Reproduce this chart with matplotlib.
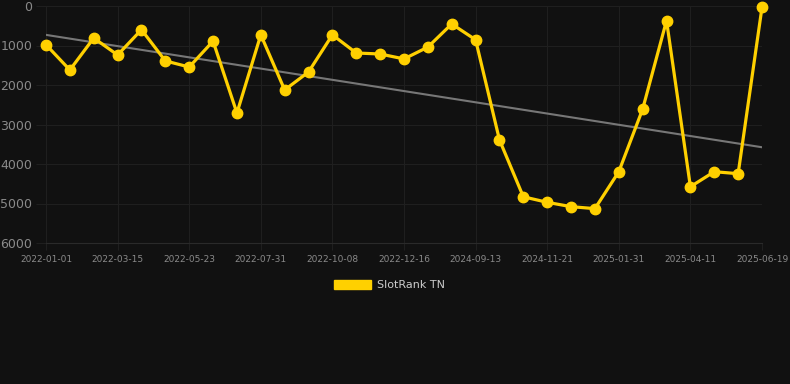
import numpy as np
import matplotlib
matplotlib.use("Agg")
import matplotlib.pyplot as plt
from matplotlib.patches import Patch

# data
dates = ["2022-01-01", "", "", "2022-03-15", "", "", "2022-05-23", "", "",
         "2022-07-31", "", "", "2022-10-08", "", "", "2022-12-16", "", "",
         "2024-09-13", "", "", "2024-11-21", "", "", "2025-01-31", "", "",
         "2025-04-11", "", "", "2025-06-19"]
ranks = [980, 1620, 810, 1240, 600, 1390, 1545, 890, 2710, 730,
         2125, 1670, 730, 1190, 1215, 1340, 1040, 455, 855, 3390,
         4830, 4970, 5080, 5130, 4195, 2610, 370, 4575, 4195, 4245, 35]

bg = "#111111"
gold = "#FFD000"
txt = "#8a8a8a"

fig = plt.figure(figsize=(7.9, 3.84), dpi=100, facecolor=bg)
ax = fig.add_axes([46 / 790, 1 - 243 / 384, (762 - 46) / 790, (243 - 6) / 384])
ax.set_facecolor(bg)

x = np.arange(len(ranks))
y = np.array(ranks, dtype=float)

# trend line (least squares)
k, b = np.polyfit(x, y, 1)
ax.plot(x, k * x + b, color="#777777", lw=1.5, zorder=2)

ax.plot(x, y, color=gold, lw=2.3, marker="o", ms=7.5, zorder=3, clip_on=False)

ax.set_xlim(0, len(ranks) - 1)
ax.set_ylim(6000, 0)
ax.set_yticks(range(0, 6001, 1000))
ax.set_xticks(x[::3])
ax.set_xticklabels([d for d in dates if d])

ax.grid(True, color="#1f1f1f", lw=0.8)
for s in ax.spines.values():
    s.set_visible(False)
ax.spines["bottom"].set_visible(True)
ax.spines["bottom"].set_color("#2a2a2a")
ax.tick_params(axis="y", colors="#1f1f1f", labelcolor=txt, labelsize=9, length=7, pad=3)
ax.tick_params(axis="x", colors="#1f1f1f", labelcolor=txt, labelsize=6.5, length=5, pad=4)

leg = fig.legend(handles=[Patch(facecolor=gold, edgecolor=gold, label="SlotRank TN")],
                 loc="center", bbox_to_anchor=(389.5 / 790, 1 - 285 / 384), frameon=False,
                 handlelength=3.3, handleheight=0.9, handletextpad=0.5,
                 fontsize=8, labelcolor="#cccccc")

fig.savefig("out.png", dpi=100, facecolor=bg)
